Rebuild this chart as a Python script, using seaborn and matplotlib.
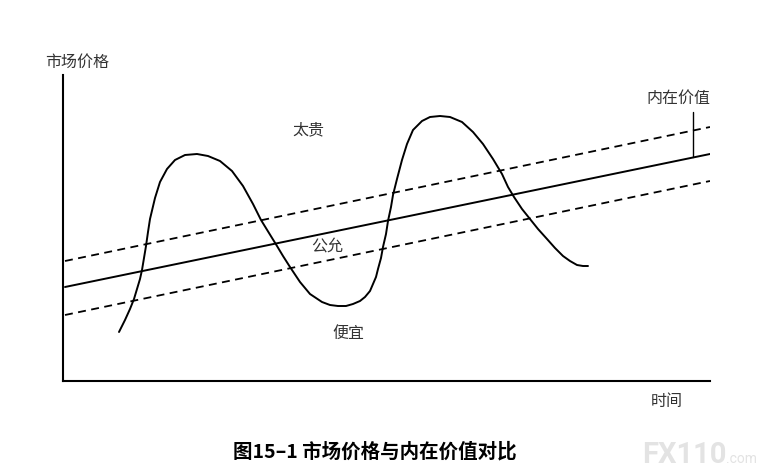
import numpy as np
import pandas as pd
import matplotlib
matplotlib.use("Agg")
import matplotlib.pyplot as plt
import seaborn as sns

# market price curve
time_pts = [56, 62, 67, 71, 74, 77, 79, 81, 83, 85, 87, 92, 97, 104, 112, 122,
            134, 145, 157, 169, 180, 190, 198, 206, 214, 220, 227, 237, 247,
            259, 267, 275, 283, 290, 297, 302, 307, 310, 313, 315, 318, 320,
            323, 325, 328, 330, 334, 339, 344, 350, 359, 367, 377, 387, 399,
            410, 420, 430, 439, 445, 451, 459, 467, 475, 484, 492, 500, 507,
            514, 520, 525]
price_pts = [48, 60, 71, 81, 91, 101, 110, 122, 134, 148, 161, 182, 198, 211, 220, 225,
             226, 224, 219, 209, 194, 176, 160, 147, 134, 124, 113, 98, 86,
             78, 75, 74, 74, 76, 79, 83, 89, 96, 103, 111, 122, 133,
             146, 159, 173, 185, 201, 220, 236, 250, 259, 263, 264, 263, 258,
             248, 236, 221, 206, 193, 183, 171, 161, 151, 141, 132, 124, 119,
             115, 114, 114]

# intrinsic value line and the band around it
line_x = [2, 647]
value_mid = [93, 226]
value_high = [119, 253]
value_low = [65, 199]

sns.set_theme(style="white")
plt.rcParams['font.family'] = ['Noto Sans CJK SC', 'DejaVu Sans']

fig = plt.figure(figsize=(7.71, 4.77), dpi=100)
ax = fig.add_axes([63 / 771, (477 - 382) / 477, 647 / 771, 306 / 477])

df_curve = pd.DataFrame({"time": time_pts, "price": price_pts})
sns.lineplot(data=df_curve, x="time", y="price", sort=False, estimator=None,
             color="black", linewidth=1.4, ax=ax,
             solid_joinstyle="round", solid_capstyle="round")

sns.lineplot(x=line_x, y=value_mid, color="black", linewidth=1.4, ax=ax)
for band in [value_high, value_low]:
    sns.lineplot(x=line_x, y=band, color="black", linewidth=1.3,
                 linestyle=(0, (4.4, 3.0)), ax=ax)

# marker for intrinsic value
ax.plot([630, 630], [223, 268], color="black", linewidth=1.0)

ax.set_xlim(0, 647)
ax.set_ylim(-1, 305)
ax.set_xticks([])
ax.set_yticks([])
ax.set_xlabel("")
ax.set_ylabel("")
for side in ["top", "right"]:
    ax.spines[side].set_visible(False)
for side in ["left", "bottom"]:
    ax.spines[side].set_color("black")
    ax.spines[side].set_linewidth(1.5)

lab = dict(fontsize=11.5, color="#333333", ha="center", va="center")
ax.text(14, 319, "市场价格", clip_on=False, **lab)
ax.text(604, -21, "时间", clip_on=False, **lab)
ax.text(245, 251, "太贵", **lab)
ax.text(264, 134, "公允", **lab)
ax.text(285, 48, "便宜", **lab)
ax.text(615, 283, "内在价值", **lab)

# caption and watermark
fig.text(375 / 771, 1 - 452 / 477, "图15–1 市场价格与内在价值对比",
         fontsize=14, fontweight="bold", ha="center", va="center", color="black")
fig.text(642 / 771, 1 - 463 / 477, "FX110", fontsize=21, fontweight="bold",
         family=["Roboto", "DejaVu Sans"], color="#e3e3e3",
         ha="left", va="baseline")
fig.text(757 / 771, 1 - 463 / 477, ".com", fontsize=10,
         family=["Roboto", "DejaVu Sans"], color="#e3e3e3",
         ha="right", va="baseline")

fig.savefig("out.png", dpi=100)
